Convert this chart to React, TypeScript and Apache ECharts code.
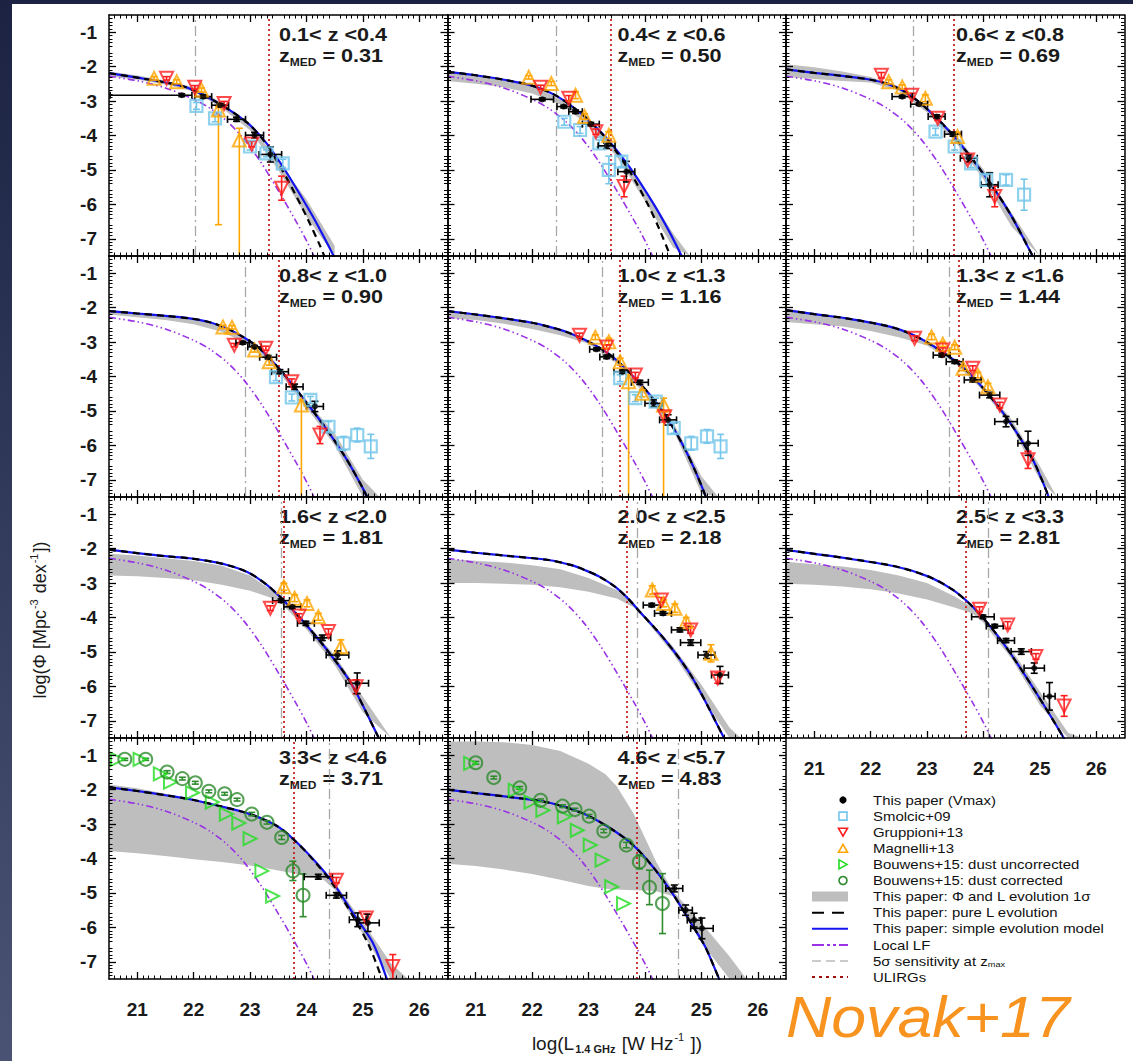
import React, { useEffect, useRef } from "react";
import * as echarts from "echarts";

const FONT = '"Liberation Sans", Arial, Helvetica, sans-serif';

const xTickValues = [21, 22, 23, 24, 25, 26];
const yTickValues = [-7, -6, -5, -4, -3, -2, -1];

const zRanges = [
  "0.1< z <0.4", "0.4< z <0.6", "0.6< z <0.8", "0.8< z <1.0", "1.0< z <1.3", "1.3< z <1.6",
  "1.6< z <2.0", "2.0< z <2.5", "2.5< z <3.3", "3.3< z <4.6", "4.6< z <5.7",
];
const zMedians = ["0.31", "0.50", "0.69", "0.90", "1.16", "1.44", "1.81", "2.18", "2.81", "3.71", "4.83"];

// vertical reference lines (log L)
const sensitivityL = [22.02, 22.42, 22.75, 22.92, 23.24, 23.39, 23.56, 23.86, 24.08, 24.4, 24.59];
const ulirgL = [23.34, 23.4, 23.48, 23.5, 23.56, 23.56, 23.6, 23.68, 23.68, 23.77, 23.85];

// local luminosity function (same in every panel)
const localLF = [
  [20.5, -2.28], [21.0, -2.41], [21.5, -2.62], [22.0, -2.95], [22.3, -3.22], [22.6, -3.6],
  [22.9, -4.12], [23.2, -4.8], [23.5, -5.6], [23.8, -6.45], [24.0, -7.05], [24.15, -7.55], [24.2, -7.7],
];

// simple evolution model (blue)
const simpleModel = [
  [[20.5, -2.19], [21.0, -2.32], [21.5, -2.46], [21.87, -2.6], [22.34, -2.97], [22.7, -3.33], [23.0, -3.7], [23.29, -4.22], [23.58, -4.9], [23.88, -5.7], [24.17, -6.52], [24.42, -7.3], [24.52, -7.62]],
  [[20.5, -2.15], [21.0, -2.25], [21.5, -2.38], [22.0, -2.55], [22.4, -2.82], [22.73, -3.18], [23.0, -3.55], [23.36, -4.15], [23.75, -4.97], [24.15, -5.98], [24.45, -6.85], [24.68, -7.6]],
  [[20.5, -2.08], [21.0, -2.18], [21.5, -2.27], [22.0, -2.38], [22.3, -2.5], [22.55, -2.68], [22.8, -2.95], [23.1, -3.38], [23.42, -3.92], [23.81, -4.7], [24.21, -5.6], [24.5, -6.35], [24.84, -7.4], [24.92, -7.65]],
  [[20.5, -2.1], [21.0, -2.17], [21.5, -2.24], [21.93, -2.31], [22.3, -2.43], [22.65, -2.65], [23.12, -3.12], [23.52, -3.78], [23.84, -4.42], [24.32, -5.45], [24.71, -6.4], [25.0, -7.25], [25.12, -7.65]],
  [[20.5, -2.1], [21.0, -2.2], [21.5, -2.31], [22.0, -2.44], [22.29, -2.55], [22.6, -2.7], [22.93, -2.93], [23.2, -3.17], [23.48, -3.5], [23.88, -4.15], [24.2, -4.75], [24.45, -5.35], [24.7, -6.08], [24.92, -6.85], [25.08, -7.5], [25.12, -7.7]],
  [[20.5, -2.07], [21.0, -2.19], [21.57, -2.31], [22.34, -2.55], [22.75, -2.79], [23.22, -3.23], [23.69, -3.81], [24.17, -4.68], [24.52, -5.46], [24.88, -6.43], [25.11, -7.3], [25.18, -7.62]],
  [[20.5, -2.03], [21.0, -2.13], [21.5, -2.22], [21.93, -2.28], [22.4, -2.4], [22.73, -2.54], [22.95, -2.68], [23.12, -2.84], [23.32, -3.08], [23.52, -3.38], [23.72, -3.72], [23.92, -4.07], [24.32, -4.85], [24.79, -5.91], [25.27, -7.46], [25.31, -7.6]],
  [[20.5, -2.03], [21.0, -2.12], [21.5, -2.2], [22.29, -2.33], [22.7, -2.48], [22.93, -2.62], [23.2, -2.82], [23.48, -3.12], [23.7, -3.45], [23.88, -3.78], [24.36, -4.66], [24.83, -5.72], [25.39, -7.46], [25.43, -7.6]],
  [[20.5, -2.04], [21.0, -2.15], [21.57, -2.28], [22.45, -2.52], [23.04, -2.82], [23.46, -3.2], [23.81, -3.69], [24.17, -4.36], [24.52, -5.14], [24.94, -6.2], [25.41, -7.46], [25.45, -7.6]],
  [[20.5, -1.93], [21.0, -2.04], [21.53, -2.17], [22.0, -2.3], [22.42, -2.46], [23.0, -2.71], [23.47, -3.05], [23.77, -3.44], [24.12, -4.02], [24.47, -4.7], [24.82, -5.58], [25.18, -6.46], [25.41, -7.43], [25.44, -7.6]],
  [[20.5, -2.0], [21.0, -2.1], [21.58, -2.21], [22.15, -2.33], [22.54, -2.48], [23.01, -2.77], [23.44, -3.18], [23.79, -3.61], [24.14, -4.24], [24.49, -5.02], [24.84, -5.94], [25.07, -6.57], [25.3, -7.44], [25.34, -7.6]],
];

// pure L evolution (black dashed); null = overlaps the blue curve
const pureLModel = [
  [[20.5, -2.19], [21.0, -2.32], [21.5, -2.46], [21.87, -2.6], [22.34, -2.97], [22.7, -3.33], [23.0, -3.7], [23.29, -4.25], [23.55, -4.95], [23.71, -5.42], [24.0, -6.35], [24.24, -7.2], [24.34, -7.6]],
  [[20.5, -2.15], [21.0, -2.25], [21.5, -2.38], [22.0, -2.55], [22.4, -2.82], [22.73, -3.18], [23.0, -3.55], [23.36, -4.18], [23.75, -5.1], [24.05, -6.0], [24.25, -6.7], [24.45, -7.5], [24.5, -7.7]],
  null, null, null, null, null, null, null,
  [[20.5, -1.93], [21.0, -2.04], [21.53, -2.17], [22.0, -2.3], [22.42, -2.46], [23.0, -2.71], [23.47, -3.05], [23.77, -3.44], [24.12, -4.04], [24.47, -4.75], [24.82, -5.66], [25.1, -6.5], [25.33, -7.45], [25.36, -7.6]],
  null,
];

// Φ and L evolution 1σ band: [logL, lower, upper]
const bands = [
  [[20.5, -2.28, -2.14], [21, -2.38, -2.26], [21.5, -2.52, -2.4], [22, -2.72, -2.6], [22.5, -3.2, -3.05], [23, -3.85, -3.68], [23.5, -5.0, -4.75], [24, -6.35, -5.85], [24.5, -7.8, -7.2]],
  [[20.5, -2.42, -2.13], [21, -2.5, -2.23], [21.5, -2.6, -2.36], [22, -2.78, -2.55], [22.5, -3.1, -2.95], [23, -3.7, -3.55], [23.5, -4.62, -4.4], [24, -5.9, -5.55], [24.5, -7.25, -6.85], [24.8, -8.1, -7.6]],
  [[20.5, -2.3, -1.93], [21, -2.36, -2.02], [21.5, -2.42, -2.14], [22, -2.46, -2.3], [22.5, -2.7, -2.57], [23, -3.33, -3.17], [23.5, -4.18, -3.98], [24, -5.27, -4.98], [24.5, -6.65, -6.25], [25, -8.1, -7.6]],
  [[20.5, -2.2, -2.07], [21, -2.28, -2.15], [21.5, -2.36, -2.22], [22, -2.48, -2.3], [22.5, -2.7, -2.58], [23, -3.1, -2.98], [23.5, -3.85, -3.72], [24, -4.9, -4.7], [24.5, -6.0, -5.65], [25, -7.5, -7.0], [25.3, -8.3, -7.7]],
  [[20.5, -2.3, -2.08], [21, -2.36, -2.16], [21.5, -2.47, -2.28], [22, -2.62, -2.42], [22.5, -2.8, -2.62], [23, -3.05, -2.94], [23.5, -3.62, -3.5], [24, -4.52, -4.36], [24.5, -5.55, -5.33], [25, -7.4, -6.9], [25.3, -8.2, -7.6]],
  [[20.5, -2.42, -2.05], [21, -2.48, -2.15], [21.5, -2.55, -2.27], [22, -2.68, -2.42], [22.5, -2.86, -2.62], [23, -3.1, -2.97], [23.5, -3.62, -3.5], [24, -4.42, -4.28], [24.5, -5.48, -5.25], [25, -7.0, -6.6], [25.3, -8.0, -7.5]],
  [[20.5, -2.78, -2.15], [21, -2.8, -2.2], [21.5, -2.85, -2.28], [22, -2.92, -2.36], [22.5, -3.05, -2.5], [23, -3.22, -2.78], [23.5, -3.5, -3.35], [24, -4.35, -4.15], [24.5, -5.38, -5.1], [25, -6.75, -6.3], [25.5, -8.2, -7.5]],
  [[20.5, -3.0, -2.3], [21, -3.0, -2.35], [21.5, -3.02, -2.4], [22, -3.05, -2.48], [22.5, -3.12, -2.6], [23, -3.25, -2.85], [23.5, -3.45, -3.2], [23.8, -3.7, -3.6], [24, -4.05, -3.95], [24.5, -5.05, -4.85], [25, -6.3, -5.95], [25.5, -7.8, -7.2], [25.7, -8.4, -7.7]],
  [[20.5, -3.02, -2.38], [21, -3.05, -2.45], [21.5, -3.1, -2.52], [22, -3.18, -2.62], [22.5, -3.3, -2.78], [23, -3.48, -3.0], [23.5, -3.72, -3.4], [23.8, -3.88, -3.7], [24, -4.15, -4.0], [24.5, -5.2, -4.95], [25, -6.55, -6.15], [25.5, -7.95, -7.35], [25.75, -8.5, -7.8]],
  [[20.5, -3.78, -1.85], [21, -3.85, -1.96], [21.5, -3.93, -2.12], [22, -4.02, -2.3], [22.5, -4.1, -2.5], [23, -4.2, -2.73], [23.5, -4.35, -3.08], [24, -4.5, -3.8], [24.3, -4.62, -4.33], [24.5, -4.9, -4.7], [25, -6.2, -5.85], [25.5, -7.55, -7.05], [25.8, -8.2, -7.55]],
  [[20.5, -4.15, -0.6], [21, -4.22, -0.6], [21.5, -4.32, -0.62], [22, -4.45, -0.7], [22.5, -4.62, -0.88], [23, -4.8, -1.25], [23.3, -4.88, -1.55], [23.5, -4.9, -1.9], [23.8, -4.92, -2.7], [24, -4.93, -3.4], [24.2, -4.95, -4.1], [24.5, -5.1, -4.95], [25, -6.45, -5.87], [25.5, -7.9, -6.85], [25.8, -8.6, -7.5]],
];

// data points: [x, y, dx, dy] or [x, y, dxLow, dxHigh, dyLow, dyHigh]
const vmaxPts = [
  [[21.79, -2.83, 1.27, 0.18, 0.04, 0.04], [22.17, -2.87, 0.15, 0.05], [22.47, -3.12, 0.15, 0.05], [22.76, -3.53, 0.16, 0.06], [23.08, -3.99, 0.16, 0.08], [23.36, -4.55, 0.2, 0.22]],
  [[22.18, -2.95, 0.2, 0.04], [22.56, -3.16, 0.12, 0.04], [22.77, -3.31, 0.12, 0.05], [23.04, -3.67, 0.15, 0.05], [23.32, -4.3, 0.15, 0.08], [23.67, -5.05, 0.15, 0.3]],
  [[22.56, -2.87, 0.18, 0.04], [22.86, -3.09, 0.15, 0.04], [23.17, -3.45, 0.15, 0.05], [23.46, -3.96, 0.15, 0.06], [23.74, -4.66, 0.15, 0.1], [24.11, -5.43, 0.15, 0.35]],
  [[22.87, -3.02, 0.12, 0.04], [23.08, -3.14, 0.12, 0.04], [23.32, -3.44, 0.15, 0.05], [23.53, -3.86, 0.15, 0.06], [23.79, -4.3, 0.15, 0.08], [24.15, -4.87, 0.15, 0.15]],
  [[23.14, -3.21, 0.12, 0.04], [23.32, -3.43, 0.12, 0.05], [23.6, -3.86, 0.15, 0.05], [23.91, -4.17, 0.15, 0.06], [24.15, -4.78, 0.15, 0.1], [24.41, -5.26, 0.15, 0.15]],
  [[23.26, -3.38, 0.15, 0.05], [23.49, -3.57, 0.15, 0.05], [23.81, -4.1, 0.15, 0.06], [24.11, -4.54, 0.18, 0.08], [24.4, -5.31, 0.2, 0.15], [24.79, -5.94, 0.18, 0.35]],
  [[23.55, -3.51, 0.15, 0.05], [23.75, -3.69, 0.15, 0.05], [23.99, -4.17, 0.15, 0.06], [24.28, -4.59, 0.15, 0.08], [24.55, -5.09, 0.2, 0.12], [24.9, -5.91, 0.2, 0.3]],
  [[24.12, -3.64, 0.15, 0.05], [24.32, -3.88, 0.15, 0.05], [24.62, -4.36, 0.15, 0.06], [24.81, -4.73, 0.18, 0.08], [25.09, -5.09, 0.15, 0.1], [25.33, -5.67, 0.15, 0.25]],
  [[23.99, -3.98, 0.2, 0.05], [24.2, -4.25, 0.15, 0.05], [24.4, -4.67, 0.15, 0.06], [24.67, -4.99, 0.18, 0.08], [24.9, -5.47, 0.18, 0.15], [25.17, -6.29, 0.1, 0.4]],
  [[24.21, -4.53, 0.25, 0.07], [24.53, -5.07, 0.18, 0.08], [24.91, -5.78, 0.15, 0.2], [25.09, -5.87, 0.2, 0.25]],
  [[24.52, -4.87, 0.15, 0.1], [24.72, -5.5, 0.12, 0.15], [24.87, -5.79, 0.12, 0.2], [25.01, -6.03, 0.2, 0.3]],
];

const smolcicPts = [
  [[22.05, -3.14, 0, 0.1], [22.38, -3.5, 0, 0.1], [23.0, -4.32, 0, 0.1], [23.29, -4.52, 0, 0.1], [23.58, -4.81, 0, 0.12]],
  [[22.57, -3.6, 0, 0.1], [22.85, -3.84, 0, 0.1], [23.19, -4.23, 0, 0.1], [23.36, -5.0, 0, 0.4], [23.58, -4.76, 0, 0.15]],
  [[23.15, -3.89, 0, 0.1], [23.49, -4.32, 0, 0.1], [23.78, -4.81, 0, 0.12], [24.05, -5.29, 0, 0.15], [24.4, -5.29, 0, 0.15], [24.72, -5.72, 0, 0.45]],
  [[23.46, -4.02, 0, 0.1], [23.74, -4.61, 0, 0.1], [24.07, -4.68, 0, 0.1], [24.39, -5.46, 0, 0.15], [24.66, -5.94, 0, 0.2], [24.9, -5.7, 0, 0.2], [25.14, -6.03, 0, 0.35]],
  [[23.56, -4.05, 0, 0.1], [23.83, -4.63, 0, 0.1], [24.19, -4.73, 0, 0.1], [24.51, -5.5, 0, 0.15], [24.82, -5.94, 0, 0.2], [25.1, -5.74, 0, 0.2], [25.34, -6.03, 0, 0.35]],
  [], [], [], [], [], [],
];

const gruppioniPts = [
  [[21.52, -2.34, 0, 0.05], [22.02, -2.6, 0, 0.05], [22.54, -3.07, 0, 0.06], [23.03, -4.25, 0, 0.08], [23.56, -5.53, 0, 0.35]],
  [[22.15, -2.6, 0, 0.06], [22.65, -2.92, 0, 0.08], [23.13, -3.89, 0, 0.08], [23.63, -5.48, 0, 0.3]],
  [[22.19, -2.25, 0, 0.08], [22.73, -2.83, 0, 0.06], [23.19, -3.5, 0, 0.06], [23.72, -4.71, 0, 0.08], [24.2, -5.77, 0, 0.3]],
  [[22.72, -3.09, 0, 0.05], [23.28, -3.18, 0, 0.06], [23.74, -4.15, 0, 0.08], [24.24, -5.7, 0, 0.25]],
  [[22.84, -2.8, 0, 0.06], [23.32, -3.14, 0, 0.06], [23.83, -3.96, 0, 0.08], [24.35, -5.17, 0, 0.15]],
  [[22.78, -2.89, 0, 0.07], [23.28, -3.23, 0, 0.06], [23.81, -3.76, 0, 0.07], [24.29, -4.83, 0, 0.08], [24.79, -6.42, 0, 0.25]],
  [[23.36, -3.73, 0, 0.07], [23.87, -3.96, 0, 0.07], [24.39, -4.41, 0, 0.08], [24.88, -6.01, 0, 0.2]],
  [[24.29, -3.49, 0, 0.07], [24.81, -4.36, 0, 0.1], [25.29, -5.76, 0, 0.15]],
  [[23.93, -3.76, 0, 0.07], [24.43, -4.22, 0, 0.1], [24.93, -5.13, 0, 0.08], [25.43, -6.57, 0, 0.3]],
  [[24.53, -4.63, 0, 0.08], [25.06, -5.73, 0, 0.12], [25.53, -7.14, 0, 0.35]],
  [],
];

const magnelliPts = [
  [[21.3, -2.34, 0, 0.05], [21.7, -2.44, 0, 0.06], [22.14, -2.68, 0, 0.06], [22.44, -3.26, 0, 0, 3.33, 0.1], [22.81, -4.13, 0, 0, 3.37, 0.34]],
  [[21.94, -2.31, 0, 0.05], [22.34, -2.49, 0, 0.06], [22.77, -2.83, 0, 0.1], [22.93, -3.45, 0, 0.08], [23.36, -3.99, 0, 0.1]],
  [[22.32, -2.44, 0, 0.06], [22.56, -2.59, 0, 0.06], [22.97, -2.92, 0, 0.1], [23.54, -4.03, 0, 0.12]],
  [[22.52, -2.56, 0, 0.05], [22.68, -2.57, 0, 0.05], [23.08, -3.23, 0, 0.06], [23.34, -3.57, 0, 0.1], [23.91, -4.83, 0, 0, 2.67, 0.15]],
  [[23.12, -2.86, 0, 0.07], [23.36, -2.99, 0, 0.1], [23.56, -3.57, 0, 0.1], [23.71, -4.15, 0, 0, 3.35, 0.2], [23.95, -4.49, 0, 0.1], [24.33, -4.83, 0, 0, 2.67, 0.2]],
  [[23.08, -2.85, 0, 0.08], [23.28, -3.06, 0, 0.07], [23.49, -3.15, 0, 0.07], [23.64, -3.76, 0, 0.07], [23.9, -3.96, 0, 0.08], [24.08, -4.3, 0, 0.1]],
  [[23.6, -3.11, 0, 0.1], [23.79, -3.44, 0, 0.1], [24.01, -3.59, 0, 0.1], [24.21, -3.98, 0, 0.1], [24.61, -4.85, 0, 0.2]],
  [[24.13, -3.2, 0, 0.12], [24.33, -3.59, 0, 0.1], [24.53, -3.73, 0, 0.12], [24.73, -4.12, 0, 0.12], [25.17, -5.04, 0, 0.25]],
  [], [], [],
];

const bouwensUncorrPts = [
  [], [], [], [], [], [], [], [], [],
  [[20.65, -1.12], [21.05, -1.12], [21.41, -1.54], [21.59, -1.78], [21.98, -2.09], [22.33, -2.36], [22.58, -2.71], [22.8, -2.97], [23.0, -3.42], [23.21, -4.36], [23.4, -5.09]],
  [[20.91, -1.24], [21.7, -2.02], [21.98, -2.36], [22.19, -2.6], [22.57, -2.79], [22.8, -3.18], [23.03, -3.61], [23.24, -4.05], [23.41, -4.82], [23.62, -5.31]],
];

const bouwensCorrPts = [
  [], [], [], [], [], [], [], [], [],
  [[20.78, -1.12, 0, 0.03], [21.15, -1.12, 0, 0.03], [21.53, -1.49, 0, 0.04], [21.8, -1.68, 0, 0.04], [22.03, -1.8, 0, 0.04], [22.27, -2.05, 0, 0.04], [22.55, -2.12, 0, 0.04], [22.77, -2.29, 0, 0.04], [23.03, -2.71, 0, 0.05], [23.3, -2.95, 0, 0.05], [23.56, -3.39, 0, 0.06], [23.76, -4.36, 0, 0.28], [23.94, -5.07, 0, 0.62]],
  [[21.0, -1.22, 0, 0.04], [21.32, -1.65, 0, 0.04], [21.78, -1.95, 0, 0.04], [22.15, -2.31, 0, 0.04], [22.54, -2.48, 0, 0.04], [22.76, -2.58, 0, 0.04], [23.01, -2.77, 0, 0.05], [23.27, -3.2, 0, 0.05], [23.67, -3.61, 0, 0.08], [23.9, -4.1, 0, 0.2], [24.08, -4.84, 0, 0.5], [24.31, -5.31, 0, 0.87]],
];

const legendLabels = [
  "This paper (Vmax)", "Smolcic+09", "Gruppioni+13", "Magnelli+13",
  "Bouwens+15: dust uncorrected", "Bouwens+15: dust corrected",
  "This paper: Φ and L evolution 1σ", "This paper: pure L evolution",
  "This paper: simple evolution model", "Local LF",
  "5σ sensitivity at z{s|max}", "ULIRGs",
];

// ---------- styling / layout ----------
const GRID_LEFT = 109;
const GRID_TOP = 15;
const CELL_W = 338.5;
const CELL_H = 241;

const C_BLUE = "#1414f0";
const C_PURPLE = "#9932e6";
const C_BAND = "#bebebe";
const C_SMOL = "#74c6ea";
const C_GRUP = "#ff1e1e";
const C_MAGN = "#ffa500";
const C_BUNC = "#22dd22";
const C_BCOR = "#2e8b2e";
const C_ULIRG = "#c81414";
const C_SENS = "#a8a8a8";

const datasets = [
  { pts: smolcicPts, color: C_SMOL, symbol: "rect", size: 12, rotate: 0, filled: false, bw: 2.2, ew: 1.6 },
  { pts: magnelliPts, color: C_MAGN, symbol: "triangle", size: 13, rotate: 0, filled: false, bw: 2, ew: 1.6 },
  { pts: gruppioniPts, color: C_GRUP, symbol: "triangle", size: 13, rotate: 180, filled: false, bw: 2, ew: 1.6 },
  { pts: bouwensUncorrPts, color: C_BUNC, symbol: "triangle", size: 13, rotate: -90, filled: false, bw: 2, ew: 1.5 },
  { pts: bouwensCorrPts, color: C_BCOR, symbol: "circle", size: 13, rotate: 0, filled: false, bw: 2, ew: 1.6 },
  { pts: vmaxPts, color: "#000000", symbol: "circle", size: 6, rotate: 0, filled: true, bw: 0, ew: 1.6 },
];

function normErr(p: number[]) {
  if (p.length === 6) return p;
  if (p.length === 4) return [p[0], p[1], p[2], p[2], p[3], p[3]];
  return [p[0], p[1], 0, 0, 0, 0];
}

function errorRenderer(color: string, width: number) {
  return (_params: any, api: any) => {
    const x = api.value(0);
    const y = api.value(1);
    const dxl = api.value(2);
    const dxh = api.value(3);
    const dyl = api.value(4);
    const dyh = api.value(5);
    const st = { stroke: color, lineWidth: width, fill: "none" };
    const cap = 3.5;
    const children: any[] = [];
    if (dxl > 0 || dxh > 0) {
      const a = api.coord([x - dxl, y]);
      const b = api.coord([x + dxh, y]);
      children.push({ type: "line", shape: { x1: a[0], y1: a[1], x2: b[0], y2: b[1] }, style: st });
      children.push({ type: "line", shape: { x1: a[0], y1: a[1] - cap, x2: a[0], y2: a[1] + cap }, style: st });
      children.push({ type: "line", shape: { x1: b[0], y1: b[1] - cap, x2: b[0], y2: b[1] + cap }, style: st });
    }
    if (dyl > 0 || dyh > 0) {
      const a = api.coord([x, y - dyl]);
      const b = api.coord([x, y + dyh]);
      children.push({ type: "line", shape: { x1: a[0], y1: a[1], x2: b[0], y2: b[1] }, style: st });
      children.push({ type: "line", shape: { x1: a[0] - cap, y1: a[1], x2: a[0] + cap, y2: a[1] }, style: st });
      children.push({ type: "line", shape: { x1: b[0] - cap, y1: b[1], x2: b[0] + cap, y2: b[1] }, style: st });
    }
    return { type: "group", children };
  };
}

// band polygon: upper edge left->right, lower edge right->left, clamped to the grid box
function bandRenderer(band: number[][]) {
  return (params: any, api: any) => {
    if (params.dataIndex !== 0) return null;
    const cs = params.coordSys;
    const clampP = (p: number[]) => [
      Math.min(Math.max(p[0], cs.x), cs.x + cs.width),
      Math.min(Math.max(p[1], cs.y), cs.y + cs.height),
    ];
    const upper = band.map((b) => clampP(api.coord([b[0], b[2]])));
    const lower = band.map((b) => clampP(api.coord([b[0], b[1]]))).reverse();
    return {
      type: "polygon",
      shape: { points: upper.concat(lower) },
      style: { fill: C_BAND, stroke: "none" },
    };
  };
}

function makeXAxis(i: number, position: string, showLabel: boolean) {
  return {
    gridIndex: i,
    type: "value",
    position,
    min: 20.5,
    max: 26.5,
    interval: 0.5,
    z: 10,
    axisLine: { show: true, onZero: false, lineStyle: { color: "#000", width: 1.5 } },
    axisTick: { show: true, inside: true, length: 7, customValues: xTickValues, lineStyle: { color: "#000", width: 1.3 } },
    minorTick: { show: true, splitNumber: 5, length: 3.5, lineStyle: { color: "#000", width: 1 } },
    splitLine: { show: false },
    minorSplitLine: { show: false },
    axisLabel: {
      show: showLabel,
      customValues: xTickValues,
      margin: 21,
      fontSize: 19,
      fontWeight: "bold",
      fontFamily: FONT,
      color: "#1a1a1a",
    },
  };
}

function makeYAxis(i: number, position: string, showLabel: boolean) {
  return {
    gridIndex: i,
    type: "value",
    position,
    min: -7.5,
    max: -0.5,
    interval: 0.5,
    z: 10,
    axisLine: { show: true, onZero: false, lineStyle: { color: "#000", width: 1.5 } },
    axisTick: { show: true, inside: true, length: 7, customValues: yTickValues, lineStyle: { color: "#000", width: 1.3 } },
    minorTick: { show: true, splitNumber: 5, length: 3.5, lineStyle: { color: "#000", width: 1 } },
    splitLine: { show: false },
    minorSplitLine: { show: false },
    axisLabel: {
      show: showLabel,
      customValues: yTickValues,
      margin: 12,
      fontSize: 19,
      fontWeight: "bold",
      fontFamily: FONT,
      color: "#1a1a1a",
    },
  };
}

function buildOption() {
  const grid: any[] = [];
  const xAxis: any[] = [];
  const yAxis: any[] = [];
  const series: any[] = [];
  const graphic: any[] = [];

  for (let i = 0; i < zRanges.length; i++) {
    const r = Math.floor(i / 3);
    const c = i % 3;
    const left = GRID_LEFT + c * CELL_W;
    const top = GRID_TOP + r * CELL_H;
    grid.push({ left, top, width: CELL_W, height: CELL_H, outerBoundsMode: "none", containLabel: false });
    xAxis.push(makeXAxis(i, "bottom", i >= 8), makeXAxis(i, "top", false));
    yAxis.push(makeYAxis(i, "left", c === 0), makeYAxis(i, "right", false));
    const ax = { xAxisIndex: 2 * i, yAxisIndex: 2 * i };

    // 1-sigma band
    series.push({
      type: "custom", ...ax, silent: true, z: 1, clip: true,
      data: bands[i],
      renderItem: bandRenderer(bands[i]),
    });

    // local LF + vertical lines
    series.push({
      type: "line", ...ax, symbol: "none", silent: true, z: 2, smooth: 0.3,
      lineStyle: { color: C_PURPLE, width: 1.6, type: [7, 3, 1.5, 3, 1.5, 3] },
      data: localLF,
      markLine: {
        silent: true,
        symbol: ["none", "none"],
        label: { show: false },
        animation: false,
        z: 2,
        data: [
          { xAxis: sensitivityL[i], lineStyle: { color: C_SENS, width: 1.3, type: [10, 4, 2, 4] } },
          { xAxis: ulirgL[i], lineStyle: { color: C_ULIRG, width: 1.7, type: [2, 3] } },
        ],
      },
    });

    // simple evolution model
    series.push({
      type: "line", ...ax, symbol: "none", silent: true, z: 3, smooth: 0.3,
      lineStyle: { color: C_BLUE, width: 2.2 },
      data: simpleModel[i],
    });
    // pure L evolution
    series.push({
      type: "line", ...ax, symbol: "none", silent: true, z: 4, smooth: 0.3,
      lineStyle: { color: "#000", width: 2.2, type: [7, 5] },
      data: pureLModel[i] || simpleModel[i],
    });

    // data points
    datasets.forEach((d, k) => {
      const pts = d.pts[i];
      if (!pts || pts.length === 0) return;
      series.push({
        type: "custom", ...ax, silent: true, z: 5 + k * 0.01, clip: true,
        data: pts.map(normErr),
        renderItem: errorRenderer(d.color, d.ew),
      });
      series.push({
        type: "scatter", ...ax, silent: true, z: 6 + k * 0.01,
        symbol: d.symbol, symbolSize: d.size, symbolRotate: d.rotate,
        itemStyle: d.filled
          ? { color: d.color }
          : { color: "rgba(255,255,255,0)", borderColor: d.color, borderWidth: d.bw },
        data: pts.map((p) => [p[0], p[1]]),
      });
    });

    // panel labels
    graphic.push({
      type: "group",
      x: left + 170,
      y: top + 20,
      scaleX: 1.2,
      silent: true,
      z: 20,
      children: [
        {
          type: "text", x: 0, y: 0,
          style: { text: zRanges[i], fontSize: 18, fontWeight: "bold", fontFamily: FONT, fill: "#1a1a1a", verticalAlign: "middle" },
        },
        {
          type: "text", x: 0, y: 21,
          style: {
            text: "{a|z}{s|MED}{a| = " + zMedians[i] + "}",
            verticalAlign: "middle",
            fontSize: 18, fontFamily: FONT, fontWeight: "bold", fill: "#1a1a1a",
            rich: {
              a: { fontSize: 18, fontWeight: "bold", fontFamily: FONT, fill: "#1a1a1a" },
              s: { fontSize: 10, fontWeight: "bold", fontFamily: FONT, fill: "#1a1a1a", padding: [13, 0, 0, 0] },
            },
          },
        },
      ],
    });
  }

  // axis titles
  graphic.push({
    type: "text", x: 617, y: 1043, silent: true,
    style: {
      text: "{n|log(L}{s|1.4 GHz}{n| [W Hz}{p|-1}{n| ])}",
      align: "center", verticalAlign: "middle",
      fontSize: 19, fontFamily: FONT, fill: "#1a1a1a",
      rich: {
        n: { fontSize: 19, fontFamily: FONT, fill: "#1a1a1a" },
        s: { fontSize: 11, fontFamily: FONT, fontWeight: "bold", fill: "#1a1a1a", padding: [12, 1, 0, 1] },
        p: { fontSize: 11, fontFamily: FONT, fill: "#1a1a1a", padding: [0, 1, 12, 1] },
      },
    },
  });
  graphic.push({
    type: "text", x: 40, y: 620, rotation: Math.PI / 2, silent: true,
    style: {
      text: "{n|log(Φ [Mpc}{p|-3}{n| dex}{p|-1}{n|])}",
      align: "center", verticalAlign: "middle",
      fontSize: 18, fontFamily: FONT, fill: "#1a1a1a",
      rich: {
        n: { fontSize: 18, fontFamily: FONT, fill: "#1a1a1a" },
        p: { fontSize: 11, fontFamily: FONT, fill: "#1a1a1a", padding: [0, 1, 12, 1] },
      },
    },
  });

  // legend
  const LX_MARK = 843;
  const LX0 = 812;
  const LX1 = 848;
  const LX_TEXT = 873;
  const LY0 = 800;
  const LDY = 16.1;
  const legendChildren: any[] = [];
  legendLabels.forEach((lab, k) => {
    const cy = LY0 + k * LDY;
    let mark: any = null;
    switch (k) {
      case 0:
        mark = { type: "circle", shape: { cx: LX_MARK, cy, r: 3.6 }, style: { fill: "#000" } };
        break;
      case 1:
        mark = { type: "rect", shape: { x: LX_MARK - 4, y: cy - 4, width: 8, height: 8 }, style: { fill: "none", stroke: C_SMOL, lineWidth: 1.6 } };
        break;
      case 2:
        mark = { type: "polygon", shape: { points: [[LX_MARK - 4.5, cy - 4], [LX_MARK + 4.5, cy - 4], [LX_MARK, cy + 4]] }, style: { fill: "none", stroke: C_GRUP, lineWidth: 1.6 } };
        break;
      case 3:
        mark = { type: "polygon", shape: { points: [[LX_MARK - 4.5, cy + 4], [LX_MARK + 4.5, cy + 4], [LX_MARK, cy - 4]] }, style: { fill: "none", stroke: C_MAGN, lineWidth: 1.6 } };
        break;
      case 4:
        mark = { type: "polygon", shape: { points: [[LX_MARK - 4, cy - 4.5], [LX_MARK - 4, cy + 4.5], [LX_MARK + 4, cy]] }, style: { fill: "none", stroke: C_BUNC, lineWidth: 1.6 } };
        break;
      case 5:
        mark = { type: "circle", shape: { cx: LX_MARK, cy, r: 4 }, style: { fill: "none", stroke: C_BCOR, lineWidth: 1.6 } };
        break;
      case 6:
        mark = { type: "rect", shape: { x: LX0, y: cy - 5, width: LX1 - LX0, height: 10 }, style: { fill: C_BAND } };
        break;
      case 7:
        mark = { type: "line", shape: { x1: LX0, y1: cy, x2: LX1, y2: cy }, style: { stroke: "#000", lineWidth: 2, lineDash: [12, 8] } };
        break;
      case 8:
        mark = { type: "line", shape: { x1: LX0, y1: cy, x2: LX1, y2: cy }, style: { stroke: C_BLUE, lineWidth: 2 } };
        break;
      case 9:
        mark = { type: "line", shape: { x1: LX0, y1: cy, x2: LX1, y2: cy }, style: { stroke: C_PURPLE, lineWidth: 2, lineDash: [12, 3, 3, 3, 3, 3] } };
        break;
      case 10:
        mark = { type: "line", shape: { x1: LX0, y1: cy, x2: LX1, y2: cy }, style: { stroke: "#bbbbbb", lineWidth: 1.6, lineDash: [9, 5] } };
        break;
      case 11:
        mark = { type: "line", shape: { x1: LX0, y1: cy, x2: LX1, y2: cy }, style: { stroke: "#a01010", lineWidth: 2, lineDash: [3, 4] } };
        break;
    }
    if (mark) legendChildren.push(mark);
    legendChildren.push({
      type: "text", x: LX_TEXT, y: cy, scaleX: 1.15,
      style: {
        text: lab, fontSize: 13, fontFamily: FONT, fill: "#111", verticalAlign: "middle",
        rich: { s: { fontSize: 8, fontFamily: FONT, fill: "#111", padding: [7, 0, 0, 0] } },
      },
    });
  });
  graphic.push({ type: "group", silent: true, children: legendChildren });

  // Novak+17 tag
  graphic.push({
    type: "text", x: 786, y: 1046, scaleX: 1.08, silent: true,
    style: { text: "Novak+17", fontSize: 58, fontStyle: "italic", fontFamily: FONT, fill: "#f7931e", verticalAlign: "bottom" },
  });

  return {
    animation: false,
    backgroundColor: "transparent",
    grid,
    xAxis,
    yAxis,
    series,
    graphic,
  };
}

export default function App() {
  const ref = useRef<HTMLDivElement>(null);
  useEffect(() => {
    if (!ref.current) return;
    const chart = echarts.init(ref.current, null, { renderer: "svg" });
    chart.setOption(buildOption() as any);
    return () => chart.dispose();
  }, []);
  return (
    <div
      style={{
        position: "absolute", left: 0, top: 0, width: 1133, height: 1061, overflow: "hidden",
        background: "linear-gradient(180deg, #1c2342 0%, #2b3455 35%, #4a5374 100%)",
      }}
    >
      <div style={{ position: "absolute", left: 12, top: 4, width: 1121, height: 1057, background: "#ffffff" }} />
      <div ref={ref} style={{ position: "absolute", left: 0, top: 0, width: 1133, height: 1061 }} />
    </div>
  );
}
